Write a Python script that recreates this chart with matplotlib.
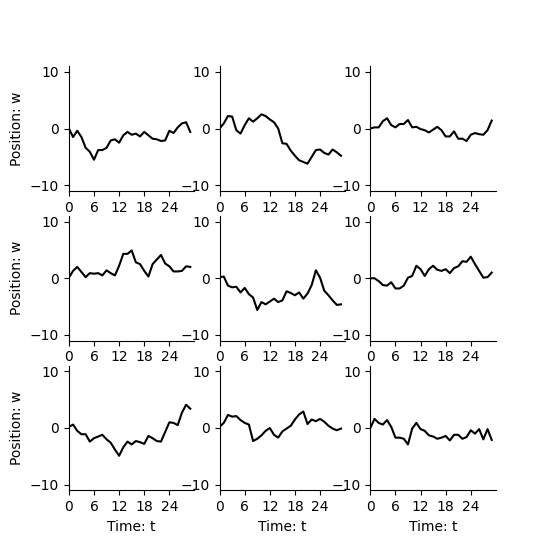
import numpy as np
import matplotlib
matplotlib.use("Agg")
import matplotlib.pyplot as plt

# time steps and position of each walk
t = np.arange(30)

walk1 = [0, -1.5, -0.4, -1.5, -3.4, -4.1, -5.5, -3.8, -3.8, -3.4, -2.1, -1.9, -2.5, -1.2, -0.6,
         -1.1, -0.9, -1.4, -0.6, -1.2, -1.8, -1.9, -2.2, -2.1, -0.4, -0.8, 0.2, 0.9, 1.1, -0.6]
walk2 = [0, 0.9, 2.2, 2.1, -0.3, -0.9, 0.6, 1.8, 1.2, 1.8, 2.5, 2.2, 1.6, 1.1, 0.0,
         -2.6, -2.7, -3.9, -4.8, -5.6, -5.9, -6.2, -5.0, -3.8, -3.7, -4.3, -4.6, -3.7, -4.2, -4.8]
walk3 = [0, 0.2, 0.2, 1.3, 1.8, 0.6, 0.2, 0.8, 0.8, 1.5, 0.2, 0.3, -0.1, -0.3, -0.7,
         -0.2, 0.3, -0.3, -1.4, -1.4, -0.5, -1.8, -1.8, -2.2, -1.1, -0.8, -1.0, -1.1, -0.3, 1.4]
walk4 = [0.1, 1.3, 2.0, 1.1, 0.2, 0.9, 0.8, 0.9, 0.5, 1.4, 0.9, 0.5, 2.2, 4.3, 4.3,
         4.9, 2.8, 2.5, 1.3, 0.3, 2.5, 3.3, 4.1, 2.6, 2.1, 1.2, 1.2, 1.3, 2.1, 2.0]
walk5 = [0.2, 0.3, -1.3, -1.6, -1.5, -2.5, -1.7, -2.8, -3.4, -5.6, -4.2, -4.6, -4.1, -3.6, -4.2,
         -3.9, -2.3, -2.6, -3.0, -2.5, -3.6, -2.7, -1.2, 1.4, 0.1, -2.2, -3.0, -3.9, -4.7, -4.6]
walk6 = [0, 0, -0.5, -1.2, -1.3, -0.7, -1.8, -1.8, -1.3, 0.1, 0.4, 2.2, 1.6, 0.4, 1.6,
         2.2, 1.5, 1.3, 1.6, 0.9, 1.8, 2.1, 3.0, 2.9, 3.8, 2.5, 1.3, 0.1, 0.2, 1.0]
walk7 = [0.2, 0.6, -0.5, -1.1, -1.1, -2.4, -1.8, -1.5, -1.2, -2.0, -2.6, -3.8, -4.9, -3.4, -2.4,
         -2.9, -2.3, -2.5, -2.8, -1.4, -1.8, -2.3, -2.4, -0.7, 1.0, 0.9, 0.5, 2.7, 4.1, 3.4]
walk8 = [0.2, 0.9, 2.3, 2.0, 2.1, 1.4, 0.9, 0.6, -2.3, -1.9, -1.3, -0.5, 0.0, -1.2, -1.7,
         -0.6, -0.1, 0.4, 1.5, 2.4, 2.9, 0.7, 1.5, 1.2, 1.6, 1.1, 0.4, -0.1, -0.4, -0.1]
walk9 = [0, 1.6, 0.9, 0.6, 1.4, 0.2, -1.7, -1.7, -1.9, -2.9, -0.1, 0.9, -0.2, -0.5, -1.3,
         -1.5, -1.9, -1.7, -1.4, -2.2, -1.2, -1.2, -1.9, -1.6, -0.4, -1.0, -0.2, -2.0, -0.2, -2.1]

walks = [walk1, walk2, walk3, walk4, walk5, walk6, walk7, walk8, walk9]

fig, axes = plt.subplots(3, 3, figsize=(5.51, 5.51), dpi=100)

for i, ax in enumerate(axes.flat):
    ax.plot(t, walks[i], color="black", lw=1.5)
    ax.set_xlim(0, 30)
    ax.set_ylim(-11, 11)
    ax.set_xticks([0, 6, 12, 18, 24])
    ax.set_yticks([-10, 0, 10])
    ax.spines["top"].set_visible(False)
    ax.spines["right"].set_visible(False)
    if i % 3 == 0:
        ax.set_ylabel("Position: w")
    if i >= 6:
        ax.set_xlabel("Time: t")

fig.savefig("out.png", dpi=100)
